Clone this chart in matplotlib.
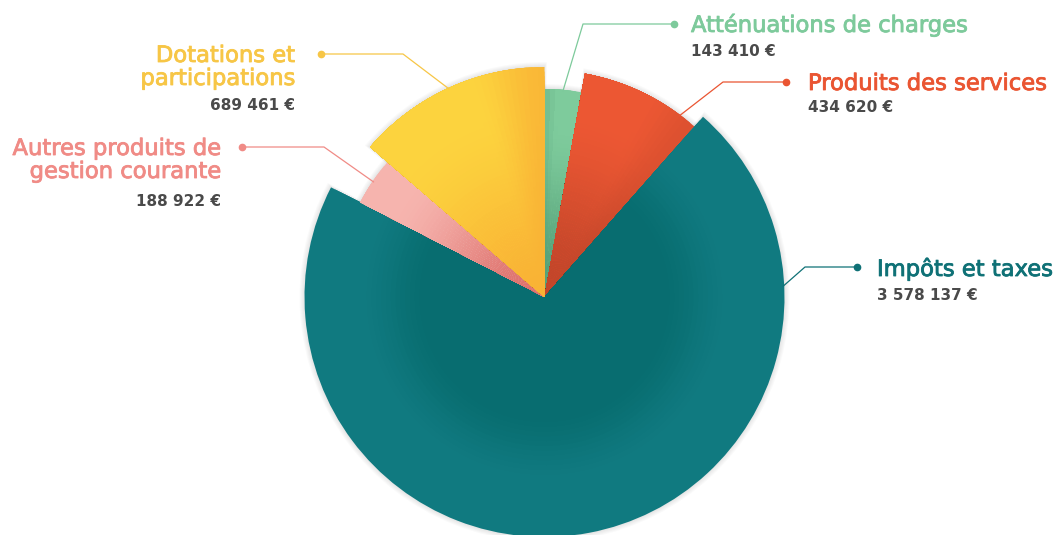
import numpy as np
import matplotlib
matplotlib.use("Agg")
import matplotlib.pyplot as plt
import matplotlib.patheffects as pe
from matplotlib.colors import to_rgb

# ---------------- data ----------------
categories = ["Atténuations de charges", "Produits des services", "Impôts et taxes",
              "Autres produits de\ngestion courante", "Dotations et\nparticipations"]
values = [143410, 434620, 3578137, 188922, 689461]
value_labels = ["143 410 €", "434 620 €", "3 578 137 €", "188 922 €", "689 461 €"]

# ---------------- styles ----------------
radii = [208, 227, 240, 207, 230]
outer_colors = ["#7ecb9c", "#ec5733", "#107a80", "#f6b4ae", "#fcd33e"]
inner_colors = ["#55a078", "#c2462a", "#086d70", "#de706c", "#f9b335"]
label_colors = ["#7dca9b", "#ea5532", "#0f7176", "#f08b86", "#f7c646"]
anchor_frac = [0.5, 0.85, 0.18, 0.5, 0.5]
elbows = [(583, 24), (723, 82), (805, 267), (324, 147), (403, 54)]
dots = [(674, 24), (786, 82), (857, 267), (242, 147), (321, 54)]

W, H = 1057, 535
fig = plt.figure(figsize=(W / 100, H / 100), dpi=100)
fig.patch.set_facecolor("white")
cx, cy = 544.5, 297
R = 250
ax = fig.add_axes([(cx - R) / W, (H - cy - R) / H, 2 * R / W, 2 * R / H], projection="polar")
ax.set_theta_zero_location("N")
ax.set_theta_direction(-1)
ax.set_ylim(0, R)
ax.axis("off")

vals = np.array(values, dtype=float)
widths = vals / vals.sum() * 2 * np.pi
starts = np.concatenate([[0], np.cumsum(widths)[:-1]])


def smooth(x):
    x = np.clip(x, 0, 1)
    return x * x * (3 - 2 * x)


# soft shadows
for i in range(len(values)):
    for k in range(1, 6):
        ax.bar(starts[i] - 0.002 * k, radii[i] + 1.0 * k, width=widths[i] + 0.004 * k,
               bottom=0, color="black", alpha=0.018, linewidth=0, align="edge", zorder=1)


def shade(i, tf, rf):
    o = np.array(to_rgb(outer_colors[i]))
    inn = np.array(to_rgb(inner_colors[i]))
    if i == 2:
        t = smooth((rf - 0.5) / 0.28)
    else:
        t = smooth((rf - 0.05) / 0.8)
    if i == 4:
        t = t * (1 - 0.85 * smooth((tf - 0.6) / 0.4))
    if i == 1:
        t = t * (1 - 0.35 * smooth((tf - 0.55) / 0.45))
    if i == 0:
        t = t * (1 - 0.3 * smooth((0.4 - tf) / 0.4))
    return inn * (1 - t) + o * t


# slices: stacked bars give seamless radial + angular gradients
for i in range(len(values)):
    nt = 1 if i == 2 else max(6, int(round(np.degrees(widths[i]) / 1.5)))
    nr = 50
    rr = np.linspace(radii[i], radii[i] / nr, nr)  # decreasing
    for j in range(nt, 0, -1):
        w = widths[i] * j / nt
        tf = (j - 0.5) / nt
        cols = [shade(i, tf, r / radii[i]) for r in rr]
        ax.bar(np.full(nr, starts[i]), rr, width=w, bottom=0, color=cols,
               linewidth=0, align="edge", zorder=2)

# overlay axes in pixel coordinates
ov = fig.add_axes([0, 0, 1, 1])
ov.set_xlim(0, W)
ov.set_ylim(H, 0)
ov.axis("off")


def to_ov(theta, r):
    d = ax.transData.transform((theta, r))
    return ov.transData.inverted().transform(d)


for i in range(len(values)):
    th = starts[i] + widths[i] * anchor_frac[i]
    ax_, ay_ = to_ov(th, radii[i] - 1)
    ex, ey = elbows[i]
    dx, dy = dots[i]
    ov.plot([ax_, ex, dx], [ay_, ey, dy], color=label_colors[i], lw=0.9, zorder=5,
            solid_capstyle="round")
    ov.plot([dx], [dy], "o", color=label_colors[i], ms=4.5, zorder=6)

font = "DejaVu Sans"
tsize, vsize = 16.3, 11
right_pos = {0: (691, [32], 56), 1: (808, [90], 112), 2: (877, [276], 300)}
left_pos = {3: (221, [155, 178], 206), 4: (295, [62, 85], 110)}


def put(i, x, ybs, yv, ha):
    for line, yb in zip(categories[i].split("\n"), ybs):
        ov.text(x, yb, line, color=label_colors[i], fontsize=tsize, family=font,
                ha=ha, va="baseline",
                path_effects=[pe.withStroke(linewidth=0.6, foreground=label_colors[i])])
    ov.text(x, yv, value_labels[i], color="#4a4a4a", fontsize=vsize, family=font,
            fontweight="bold", ha=ha, va="baseline")


for i, (x, ybs, yv) in right_pos.items():
    put(i, x, ybs, yv, "left")
for i, (x, ybs, yv) in left_pos.items():
    put(i, x, ybs, yv, "right")

fig.savefig("out.png", dpi=100, facecolor="white")
